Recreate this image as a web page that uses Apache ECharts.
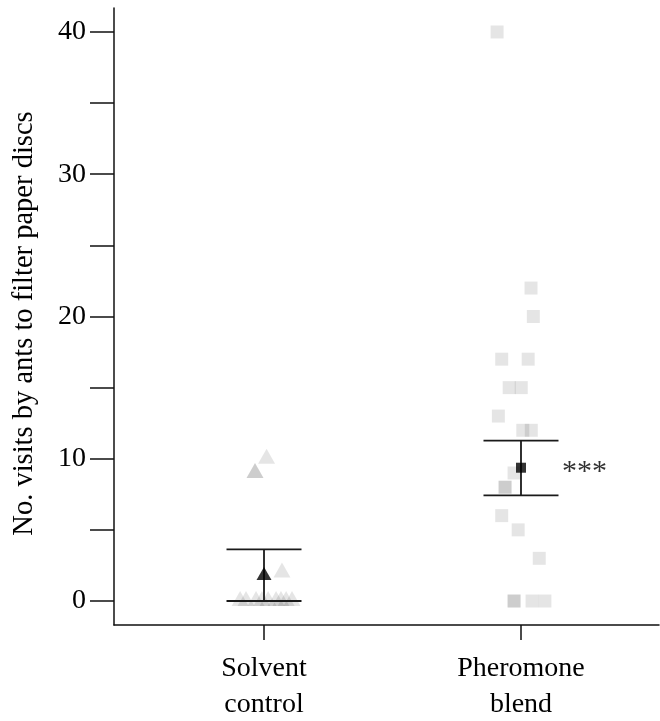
<!DOCTYPE html>
<html>
<head>
<meta charset="utf-8">
<script src="https://cdn.jsdelivr.net/npm/echarts@6/dist/echarts.min.js"></script>
<style>html,body{margin:0;padding:0;background:#fff;}#chart{width:660px;height:721px;}</style>
</head>
<body>
<div id="chart"></div>
<script>
// ---- data ----
const categories = ['Solvent\ncontrol', 'Pheromone\nblend'];
const solventValues = [10, 9, 9, 2, 0, 0, 0, 0, 0, 0, 0, 0, 0];
const solventJitter = [0.01, -0.035, -0.035, 0.07, -0.093, -0.07, -0.031, -0.008, 0.016, 0.047, 0.066, 0.086, 0.109];
const pheromoneValues = [40, 22, 20, 17, 17, 15, 15, 13, 12, 12, 9, 8, 8, 6, 5, 3, 0, 0, 0, 0];
const pheromoneJitter = [-0.093, 0.039, 0.048, -0.075, 0.028, -0.046, 0.001, -0.088, 0.007, 0.04, -0.027, -0.062, -0.062, -0.075, -0.011, 0.071, -0.027, -0.027, 0.043, 0.093];
const means = [1.8, 9.37];
const lowerBounds = [0, 7.43];
const upperBounds = [3.63, 11.27];
const significance = ['', '***'];
const yLabelValues = [0, 10, 20, 30, 40];
const yTickValues = [0, 5, 10, 15, 20, 25, 30, 35, 40];
const yTitle = 'No. visits by ants to filter paper discs';

// ---- build ----
const FONT = '"Liberation Serif", "DejaVu Serif", serif';
const solventPts = solventValues.map((v, i) => [1 + solventJitter[i], v]);
const pheromonePts = pheromoneValues.map((v, i) => [2 + pheromoneJitter[i], v]);
const errData = means.map((m, i) => [i + 1, lowerBounds[i], upperBounds[i]]);

const chart = echarts.init(document.getElementById('chart'), null, {renderer: 'canvas'});
chart.setOption({
  animation: false,
  backgroundColor: '#fff',
  grid: {left: 114, right: 1, top: 8, bottom: 96, containLabel: false, outerBoundsMode: 'none'},
  xAxis: {
    type: 'value', min: 0.4163, max: 2.537,
    splitLine: {show: false},
    axisLine: {show: true, onZero: false, lineStyle: {color: '#111', width: 1.5}},
    axisTick: {show: true, customValues: [1, 2], length: 15, lineStyle: {color: '#111', width: 1.5}},
    axisLabel: {
      show: true, customValues: [1, 2], margin: 26,
      formatter: v => categories[Math.round(v) - 1] || '',
      fontFamily: FONT, fontSize: 28, lineHeight: 36, color: '#000', align: 'center'
    }
  },
  yAxis: {
    type: 'value', min: -1.687, max: 41.687,
    splitLine: {show: false},
    axisLine: {show: true, onZero: false, lineStyle: {color: '#111', width: 1.5}},
    axisTick: {show: true, customValues: yTickValues, length: 24, lineStyle: {color: '#111', width: 1.5}},
    axisLabel: {show: true, customValues: yLabelValues, margin: 28, fontFamily: FONT, fontSize: 28, color: '#000'},
    name: yTitle, nameLocation: 'middle', nameGap: 75,
    nameTextStyle: {fontFamily: FONT, fontSize: 28.5, color: '#000', padding: [0, 14, 0, 0]}
  },
  series: [
    {
      type: 'scatter', data: solventPts, symbol: 'triangle', symbolSize: [17, 15], symbolOffset: [0, -2.5],
      itemStyle: {color: '#000', opacity: 0.1}, z: 2
    },
    {
      type: 'scatter', data: pheromonePts, symbol: 'rect', symbolSize: 13,
      itemStyle: {color: '#000', opacity: 0.1}, z: 2
    },
    {
      type: 'custom', data: errData, z: 5,
      renderItem: function (params, api) {
        const x = api.value(0);
        const lo = api.coord([x, api.value(1)]);
        const hi = api.coord([x, api.value(2)]);
        const hw = 37.5;
        const style = {stroke: '#1a1a1a', lineWidth: 1.8};
        return {type: 'group', children: [
          {type: 'line', shape: {x1: lo[0], y1: lo[1], x2: hi[0], y2: hi[1]}, style: style},
          {type: 'line', shape: {x1: lo[0] - hw, y1: lo[1], x2: lo[0] + hw, y2: lo[1]}, style: style},
          {type: 'line', shape: {x1: hi[0] - hw, y1: hi[1], x2: hi[0] + hw, y2: hi[1]}, style: style}
        ]};
      }
    },
    {
      type: 'scatter', data: [[1, means[0]]], symbol: 'triangle', symbolSize: [15, 13], symbolOffset: [0, -2],
      itemStyle: {color: '#000'}, z: 6
    },
    {
      type: 'scatter', data: [[2, means[1]]], symbol: 'rect', symbolSize: 10,
      itemStyle: {color: '#000'}, z: 6,
      label: {show: true, position: 'right', distance: 36, formatter: () => significance[1],
        fontFamily: FONT, fontSize: 30, color: '#000', offset: [0, 4]}
    }
  ]
});
</script>
</body>
</html>
